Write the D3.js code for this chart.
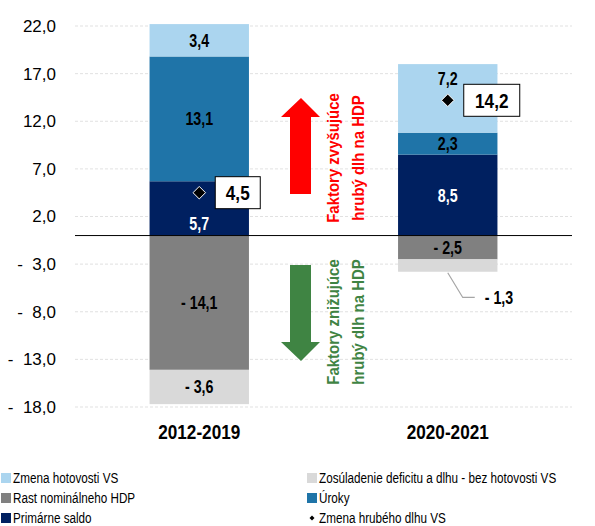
<!DOCTYPE html>
<html>
<head>
<meta charset="utf-8">
<script src="https://cdn.jsdelivr.net/npm/d3@7"></script>
<style>
  body { margin: 0; background: #fff; }
  svg { display: block; font-family: "Liberation Sans", Arial, sans-serif; }
</style>
</head>
<body>
<svg id="chart" width="595" height="526"></svg>
<script>
// data
const categories = ['2012-2019', '2020-2021'];
const primarneSaldo = [5.7, 8.5];
const uroky = [13.1, 2.3];
const zmenaHotovosti = [3.4, 7.2];
const rastHdp = [-14.1, -2.5];
const zosuladenie = [-3.6, -1.3];
const zmenaDlhu = [4.5, 14.2];
const yTicks = [22, 17, 12, 7, 2, -3, -8, -13, -18];

const series = [
  { name: 'Primárne saldo', values: primarneSaldo, color: '#002060', text: '#fff' },
  { name: 'Úroky', values: uroky, color: '#1f74a8', text: '#000' },
  { name: 'Zmena hotovosti VS', values: zmenaHotovosti, color: '#abd5ef', text: '#000' },
  { name: 'Rast nominálneho HDP', values: rastHdp, color: '#808080', text: '#000' },
  { name: 'Zosúladenie deficitu a dlhu - bez hotovosti VS', values: zosuladenie, color: '#d9d9d9', text: '#000' }
];

const svg = d3.select('#chart');
const x = d3.scaleBand().domain(categories).range([75, 572]).paddingInner(0.6).paddingOuter(0.3);
const y = d3.scaleLinear().domain([-18, 22]).range([407, 26]);

// excel style: "- 3,0"
const fmtWith = gap => v => {
  const s = Math.abs(v).toFixed(1).replace('.', ',');
  return v < 0 ? '-' + gap + s : s;
};
const fmtTick = fmtWith('\u2007');
const fmt = fmtWith('\u00a0');

// narrow-font stand-in: squeeze the text horizontally around its anchor
function addText(parent, tx, ty, str, o = {}) {
  return parent.append('text')
    .attr('transform', `translate(${tx},${ty}) scale(${o.sx || 1},1)`)
    .attr('dy', '0.35em')
    .attr('text-anchor', o.anchor || 'middle')
    .attr('font-size', o.size || 15)
    .attr('font-weight', o.bold ? 'bold' : null)
    .attr('fill', o.fill || '#000')
    .text(str);
}

// gridlines
svg.append('g').selectAll('line').data(yTicks).join('line')
  .attr('x1', 75).attr('x2', 572)
  .attr('y1', d => y(d)).attr('y2', d => y(d))
  .attr('stroke', '#d9d9d9').attr('stroke-width', 0.8).attr('stroke-dasharray', '3,2');

// y axis
const yAxis = d3.axisLeft(y).tickValues(yTicks).tickFormat(fmtTick).tickSize(0).tickPadding(0);
const yg = svg.append('g').attr('transform', 'translate(56,0)').call(yAxis);
yg.select('.domain').remove();
yg.selectAll('text').attr('font-size', 17).attr('fill', '#000')
  .attr('font-family', '"Liberation Sans", Arial, sans-serif');

// stacked bars
const bars = svg.append('g');
categories.forEach((c, i) => {
  let pos = 0, neg = 0;
  series.forEach(s => {
    const v = s.values[i];
    let y0, y1;
    if (v >= 0) { y0 = pos; y1 = pos + v; pos = y1; }
    else { y0 = neg; y1 = neg + v; neg = y1; }
    bars.append('rect')
      .attr('x', x(c)).attr('width', x.bandwidth())
      .attr('y', y(Math.max(y0, y1))).attr('height', Math.abs(y(y0) - y(y1)))
      .attr('fill', s.color);
    s.seg = s.seg || [];
    s.seg[i] = [y0, y1];
  });
});

// zero line
svg.append('line').attr('x1', 75).attr('x2', 572).attr('y1', y(0)).attr('y2', y(0))
  .attr('stroke', '#000').attr('stroke-width', 1);

// segment labels
const labels = svg.append('g');
const lblOpt = { size: 18.5, bold: true, sx: 0.77 };
series.forEach(s => {
  categories.forEach((c, i) => {
    const [y0, y1] = s.seg[i];
    const cx = x(c) + x.bandwidth() / 2;
    if (s.name.startsWith('Zosúladenie') && i === 1) {
      // leader line to a label outside the bar
      const ly = y(-6.5);
      svg.append('polyline')
        .attr('points', [[cx, y(y1) + 1], [cx + 15, ly], [cx + 27, ly]].join(' '))
        .attr('fill', 'none').attr('stroke', '#a6a6a6').attr('stroke-width', 1.2);
      addText(labels, cx + 37, ly, fmt(s.values[i]), { ...lblOpt, anchor: 'start' });
      return;
    }
    let ly = y((y0 + y1) / 2);
    if (s.name === 'Zmena hotovosti VS' && i === 1) ly = y(y1) + 14;
    if (s.name === 'Primárne saldo' && i === 0) ly = y(y0) - 12;
    addText(labels, cx, ly, fmt(s.values[i]), { ...lblOpt, fill: s.text });
  });
});

// debt change markers
categories.forEach((c, i) => {
  const cx = x(c) + x.bandwidth() / 2;
  const cy = y(zmenaDlhu[i]);
  svg.append('path').attr('d', d3.symbol(d3.symbolDiamond2, 100)())
    .attr('transform', `translate(${cx},${cy})`)
    .attr('fill', '#000').attr('stroke', '#fff').attr('stroke-width', 1);
  const bw = i === 0 ? 45 : 56;
  svg.append('rect').attr('x', cx + 16).attr('y', cy - 16).attr('width', bw).attr('height', 32)
    .attr('fill', '#fff').attr('stroke', '#000').attr('stroke-width', 1);
  addText(svg, cx + 16 + bw / 2, cy + 0.5, fmt(zmenaDlhu[i]), { size: 19.5, bold: true, sx: 0.88 });
});

// arrows
const ax = 300;
svg.append('path')
  .attr('d', `M${ax - 10},194 L${ax - 10},117 L${ax - 19},117 L${ax + 1},98 L${ax + 20},117 L${ax + 11},117 L${ax + 11},194 Z`)
  .attr('fill', '#ff0000');
svg.append('path')
  .attr('d', `M${ax - 10},265 L${ax - 10},342 L${ax - 19},342 L${ax + 1},361 L${ax + 20},342 L${ax + 11},342 L${ax + 11},265 Z`)
  .attr('fill', '#3f8443');

const arrowText = (cy, lines, color) => {
  const t = svg.append('text').attr('transform', `translate(345,${cy}) rotate(-90) scale(0.88,1)`)
    .attr('text-anchor', 'middle').attr('font-weight', 'bold').attr('font-size', 17).attr('fill', color);
  lines.forEach((l, k) => t.append('tspan').attr('x', 0).attr('y', k === 0 ? -6 : 19).text(l));
};
arrowText(158, ['Faktory zvyšujúce', 'hrubý dlh na HDP'], '#ff0000');
arrowText(322, ['Faktory znižujúce', 'hrubý dlh na HDP'], '#3f8443');

// category labels
categories.forEach(c => {
  addText(svg, x(c) + x.bandwidth() / 2, 432, c, { size: 19.5, bold: true, sx: 0.88 });
});

// legend
const legendItems = [
  { name: 'Zmena hotovosti VS', color: '#abd5ef', col: 0, row: 0 },
  { name: 'Rast nominálneho HDP', color: '#808080', col: 0, row: 1 },
  { name: 'Primárne saldo', color: '#002060', col: 0, row: 2 },
  { name: 'Zosúladenie deficitu a dlhu - bez hotovosti VS', color: '#d9d9d9', col: 1, row: 0 },
  { name: 'Úroky', color: '#1f74a8', col: 1, row: 1 },
  { name: 'Zmena hrubého dlhu VS', color: null, col: 1, row: 2 }
];
const lg = svg.append('g');
legendItems.forEach(d => {
  const lx = d.col === 0 ? 1 : 307;
  const ly = 478 + d.row * 20;
  if (d.color) {
    lg.append('rect').attr('x', lx).attr('y', ly - 5).attr('width', 10).attr('height', 10).attr('fill', d.color);
  } else {
    lg.append('path').attr('d', d3.symbol(d3.symbolDiamond2, 16)())
      .attr('transform', `translate(${lx + 5},${ly})`).attr('fill', '#000');
  }
  addText(lg, lx + 12, ly, d.name, { size: 15.5, sx: 0.755, anchor: 'start' });
});
</script>
</body>
</html>
